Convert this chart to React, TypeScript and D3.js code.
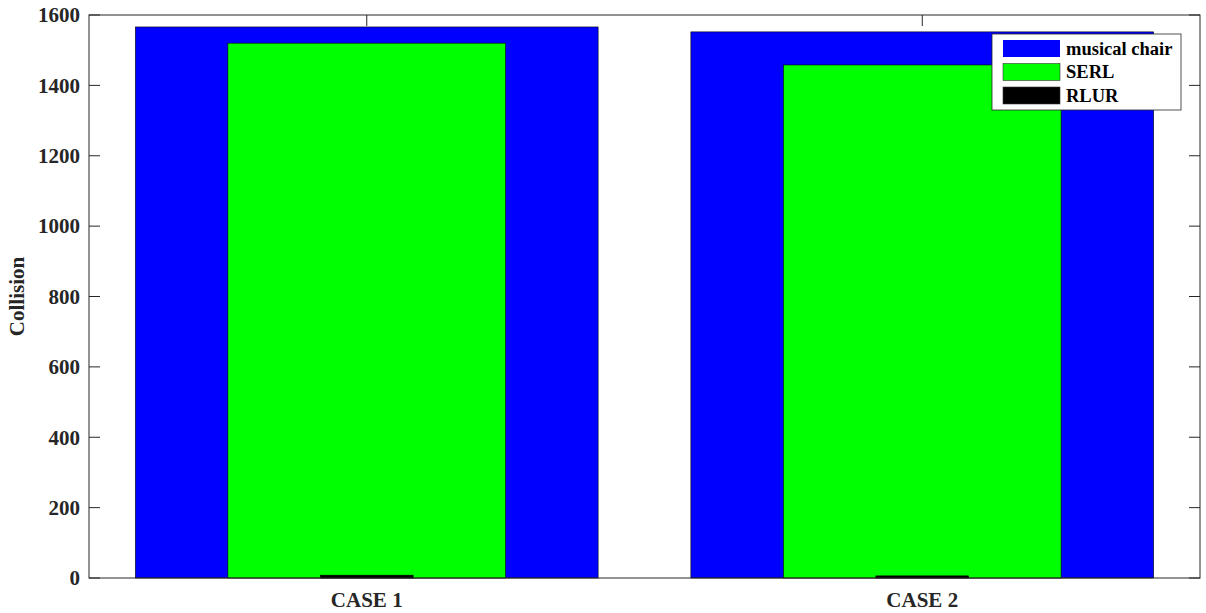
import React from "react";
import * as d3 from "d3";

const categories = ["CASE 1", "CASE 2"];
const seriesNames = ["musical chair", "SERL", "RLUR"];
const musicalChair = [1566, 1552];
const serl = [1520, 1458];
const rlur = [8, 6];
const yTicks = [0, 200, 400, 600, 800, 1000, 1200, 1400, 1600];

const W = 1206;
const H = 613;
const M = { left: 89, top: 15, right: 1200, bottom: 578 };
const colors = ["#0000ff", "#00ff00", "#000000"];
const widths = [0.833, 0.5, 0.167];
const textColor = "#262626";
const font = "'Liberation Serif', 'Times New Roman', serif";

export default function App() {
  const x = d3.scaleLinear().domain([0.5, 2.5]).range([M.left, M.right]);
  const y = d3.scaleLinear().domain([0, 1600]).range([M.bottom, M.top]);
  const unit = x(2) - x(1);
  const series = [musicalChair, serl, rlur];

  return (
    <svg
      width={W}
      height={H}
      style={{ position: "absolute", left: 0, top: 0, background: "#fff" }}
      fontFamily={font}
    >
      <rect x={0} y={0} width={W} height={H} fill="#fff" />
      {/* tick marks (under the data, as MATLAB's default layer) */}
      {yTicks.map((t) => (
        <g key={`tk${t}`}>
          <line x1={M.left} x2={M.left + 11} y1={y(t)} y2={y(t)} stroke={textColor} />
          <line x1={M.right} x2={M.right - 11} y1={y(t)} y2={y(t)} stroke={textColor} />
        </g>
      ))}
      {categories.map((c, i) => (
        <g key={`tk${c}`}>
          <line x1={x(i + 1)} x2={x(i + 1)} y1={M.bottom} y2={M.bottom - 11} stroke={textColor} />
          <line x1={x(i + 1)} x2={x(i + 1)} y1={M.top} y2={M.top + 11} stroke={textColor} />
        </g>
      ))}
      {series.map((vals, si) =>
        vals.map((v, ci) => {
          const cx = x(ci + 1);
          const w = widths[si] * unit;
          return (
            <rect
              key={`${si}-${ci}`}
              x={cx - w / 2}
              y={y(v)}
              width={w}
              height={y(0) - y(v)}
              fill={colors[si]}
              stroke="#000"
              strokeWidth={0.6}
            />
          );
        })
      )}
      {/* axes box */}
      <rect
        x={M.left}
        y={M.top}
        width={M.right - M.left}
        height={M.bottom - M.top}
        fill="none"
        stroke={textColor}
        strokeWidth={1}
      />
      {yTicks.map((t) => (
        <text
          key={t}
          x={80}
          y={y(t)}
          dy="0.35em"
          textAnchor="end"
          fontSize={21}
          fontWeight="bold"
          fill={textColor}
        >
          {t}
        </text>
      ))}
      {categories.map((c, i) => (
        <text
          key={c}
          x={x(i + 1)}
          y={607}
          textAnchor="middle"
          fontSize={21}
          fontWeight="bold"
          fill={textColor}
        >
          {c}
        </text>
      ))}
      <text
        transform={`translate(24, ${(M.top + M.bottom) / 2}) rotate(-90)`}
        textAnchor="middle"
        fontSize={21}
        fontWeight="bold"
        fill={textColor}
      >
        Collision
      </text>
      {/* legend */}
      <g>
        <rect x={992} y={34} width={189} height={76} fill="#fff" stroke={textColor} strokeWidth={0.8} />
        {seriesNames.map((n, i) => (
          <g key={n}>
            <rect
              x={1003}
              y={40 + i * 23.5}
              width={57}
              height={17}
              fill={colors[i]}
              stroke={i === 0 ? "none" : "#333"}
              strokeWidth={0.6}
            />
            <text
              x={1066}
              y={40 + i * 23.5 + 8.5}
              dy="0.35em"
              fontSize={18.5}
              fontWeight="bold"
              fill="#000"
            >
              {n}
            </text>
          </g>
        ))}
      </g>
    </svg>
  );
}
